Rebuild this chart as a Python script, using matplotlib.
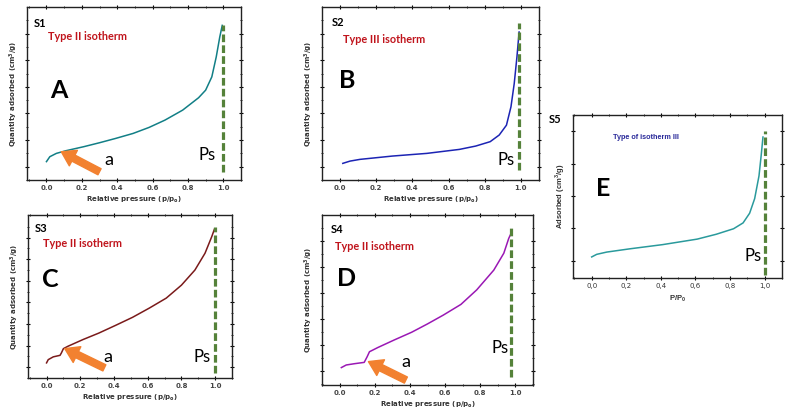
import numpy as np
import matplotlib.pyplot as plt

# ---- data (y in arbitrary units) ----
a_x = [0.0, 0.019, 0.056, 0.11, 0.21, 0.30, 0.39, 0.49, 0.58, 0.67, 0.77, 0.86, 0.90, 0.935, 0.96, 0.98, 0.994]
a_y = [1.19, 1.375, 1.5, 1.6, 1.75, 1.9, 2.06, 2.25, 2.475, 2.75, 3.125, 3.59, 3.875, 4.375, 5.125, 5.875, 6.31]

b_x = [0.015, 0.055, 0.11, 0.29, 0.48, 0.66, 0.75, 0.83, 0.88, 0.92, 0.945, 0.963, 0.978, 0.99]
b_y = [1.125, 1.21, 1.275, 1.4, 1.5, 1.65, 1.775, 1.94, 2.19, 2.56, 3.25, 4.125, 5.125, 6.06]

c_x = [0.0, 0.01, 0.04, 0.08, 0.088, 0.10, 0.127, 0.216, 0.31, 0.41, 0.51, 0.61, 0.71, 0.80, 0.88, 0.94, 0.98, 0.996]
c_y = [1.2, 1.35, 1.48, 1.55, 1.66, 1.86, 1.97, 2.28, 2.58, 2.94, 3.31, 3.74, 4.2, 4.8, 5.5, 6.28, 7.05, 7.4]

d_x = [0.01, 0.038, 0.085, 0.14, 0.157, 0.17, 0.217, 0.31, 0.41, 0.5, 0.59, 0.69, 0.78, 0.877, 0.934, 0.962, 0.98]
d_y = [1.13, 1.23, 1.28, 1.33, 1.55, 1.74, 1.9, 2.19, 2.49, 2.81, 3.15, 3.56, 4.12, 4.88, 5.53, 6.1, 6.36]

e_x = [0.0, 0.029, 0.087, 0.22, 0.41, 0.61, 0.72, 0.82, 0.875, 0.913, 0.942, 0.967, 0.98, 0.99]
e_y = [1.12, 1.2, 1.27, 1.37, 1.5, 1.67, 1.82, 1.99, 2.17, 2.47, 2.92, 3.62, 4.27, 4.82]

xticks = [0.0, 0.2, 0.4, 0.6, 0.8, 1.0]
xtick_labels = ['0.0', '0.2', '0.4', '0.6', '0.8', '1.0']
xtick_labels_e = ['0,0', '0,2', '0,4', '0,6', '0,8', '1,0']

W, H = 789, 420
fig = plt.figure(figsize=(W / 100, H / 100), dpi=100)

ORANGE = '#f28130'
GREEN = '#55823a'
BIGFONT = 'Lato'


def make_ax(left, right, top, bottom, xlim, ylim, yticks):
    ax = fig.add_axes([left / W, 1 - bottom / H, (right - left) / W, (bottom - top) / H])
    ax.set_xlim(*xlim)
    ax.set_ylim(*ylim)
    ax.set_xticks(xticks)
    ax.set_xticks(np.arange(-0.1, 1.1, 0.1), minor=True)
    ax.set_yticks(yticks)
    ax.set_yticks(np.arange(yticks[0] - 0.5, yticks[-1] + 0.6, 0.5), minor=True)
    ax.set_yticklabels([])
    ax.tick_params(which='both', direction='inout', top=True, right=True,
                   labelsize=5, labelcolor='#444444', pad=2)
    ax.tick_params(which='major', length=3, width=0.8)
    ax.tick_params(which='minor', length=1.8, width=0.6)
    for s in ax.spines.values():
        s.set_linewidth(1.0)
        s.set_color('#222222')
    return ax


def std_labels(ax):
    ax.set_xticklabels(xtick_labels, fontweight='bold')
    ax.set_xlabel(r'Relative pressure (p/p$_\mathregular{o}$)', fontsize=5,
                  fontweight='bold', color='#333333', labelpad=2.5)
    ax.set_ylabel(r'Quantity adsorbed (cm$^\mathregular{3}$/g)', fontsize=5,
                  fontweight='bold', color='#333333', labelpad=1.5)


def ps_line(ax, x, y0, y1, tx, ty):
    ax.plot([x, x], [y0, y1], color=GREEN, lw=2.3, dashes=(2.4, 1.0))
    ax.text(tx, ty, 'Ps', fontsize=12, family=BIGFONT, ha='center', va='center')


def arrow(ax, head, tail, tx, ty):
    ax.annotate('', xy=head, xytext=tail,
                arrowprops=dict(arrowstyle='simple,head_length=0.7,head_width=0.9,tail_width=0.35',
                                color=ORANGE, mutation_scale=14, shrinkA=0, shrinkB=0))
    ax.text(tx, ty, 'a', fontsize=13, family=BIGFONT, ha='center', va='center')


def titles(ax, tag, tx, ty, label, lx, ly):
    ax.text(tx, ty, tag, fontsize=8, fontweight='bold', family=BIGFONT, va='center')
    ax.text(lx, ly, label, fontsize=7.8, fontweight='bold', family=BIGFONT,
            color='#c0141c', va='center')


# ---- A ----
ax = make_ax(27, 241, 7, 180, (-0.11, 1.084), (0.5, 7.0), [1, 2, 3, 4, 5, 6])
std_labels(ax)
ax.plot(a_x, a_y, color='#127f86', lw=1.1)
ps_line(ax, 1.0, 0.81, 6.31, 0.91, 1.44)
arrow(ax, (0.084, 1.56), (0.30, 0.81), 0.355, 1.25)
ax.text(0.07, 3.85, 'A', fontsize=18, fontweight='bold', family=BIGFONT, ha='center', va='center')
titles(ax, 'S1', -0.07, 6.38, 'Type II isotherm', 0.01, 5.9)

# ---- B ----
ax = make_ax(322, 539, 7, 180, (-0.099, 1.095), (0.5, 7.0), [1, 2, 3, 4, 5, 6])
std_labels(ax)
ax.plot(b_x, b_y, color='#1c24b4', lw=1.1)
ps_line(ax, 0.99, 0.875, 6.4, 0.917, 1.25)
ax.text(0.04, 4.25, 'B', fontsize=18, fontweight='bold', family=BIGFONT, ha='center', va='center')
titles(ax, 'S2', -0.045, 6.4, 'Type III isotherm', 0.015, 5.78)

# ---- C ----
ax = make_ax(28, 232, 215, 378, (-0.11, 1.09), (0.5, 8.05), [1, 2, 3, 4, 5, 6, 7])
std_labels(ax)
ax.plot(c_x, c_y, color='#7a1a1a', lw=1.1)
ps_line(ax, 1.0, 0.74, 7.5, 0.92, 1.46)
arrow(ax, (0.108, 1.86), (0.343, 0.97), 0.363, 1.46)
ax.text(0.02, 5.05, 'C', fontsize=18, fontweight='bold', family=BIGFONT, ha='center', va='center')
titles(ax, 'S3', -0.07, 7.43, 'Type II isotherm', -0.02, 6.74)

# ---- D ----
ax = make_ax(322, 533, 215, 385, (-0.092, 1.10), (0.46, 7.0), [1, 2, 3, 4, 5, 6])
std_labels(ax)
ax.plot(d_x, d_y, color='#9a18b4', lw=1.1)
ps_line(ax, 0.975, 0.78, 6.49, 0.915, 1.87)
arrow(ax, (0.164, 1.36), (0.377, 0.65), 0.377, 1.33)
ax.text(0.04, 4.54, 'D', fontsize=18, fontweight='bold', family=BIGFONT, ha='center', va='center')
titles(ax, 'S4', -0.05, 6.46, 'Type II isotherm', -0.025, 5.8)

# ---- E ----
ax = make_ax(573, 782, 115, 278, (-0.108, 1.096), (0.47, 5.37), [1, 2, 3, 4, 5])
ax.set_yticks([], minor=True)
ax.set_xticklabels(xtick_labels_e)
ax.tick_params(labelsize=5, labelcolor='#333333')
ax.set_xlabel(r'P/P$_\mathregular{0}$', fontsize=5.5, fontweight='bold', family='Liberation Sans',
              color='#333333', labelpad=3)
ax.set_ylabel(r'Adsorbed (cm$^\mathregular{3}$/g)', fontsize=5.5, fontweight='bold',
              family='Liberation Sans', color='#333333', labelpad=1)
ax.plot(e_x, e_y, color='#2a9a9c', lw=1.1)
ps_line(ax, 1.0, 0.57, 5.02, 0.93, 1.14)
ax.text(0.067, 3.22, 'E', fontsize=18, fontweight='bold', family=BIGFONT, ha='center', va='center')
ax.text(-0.21, 5.37, 'S5', fontsize=8, fontweight='bold', family=BIGFONT, va='center',
        ha='center', clip_on=False)
ax.text(0.125, 4.82, 'Type of isotherm III', fontsize=5.2, fontweight='bold',
        family='Liberation Sans', color='#2a2a9a', va='center')

fig.savefig('out.png', dpi=100)
